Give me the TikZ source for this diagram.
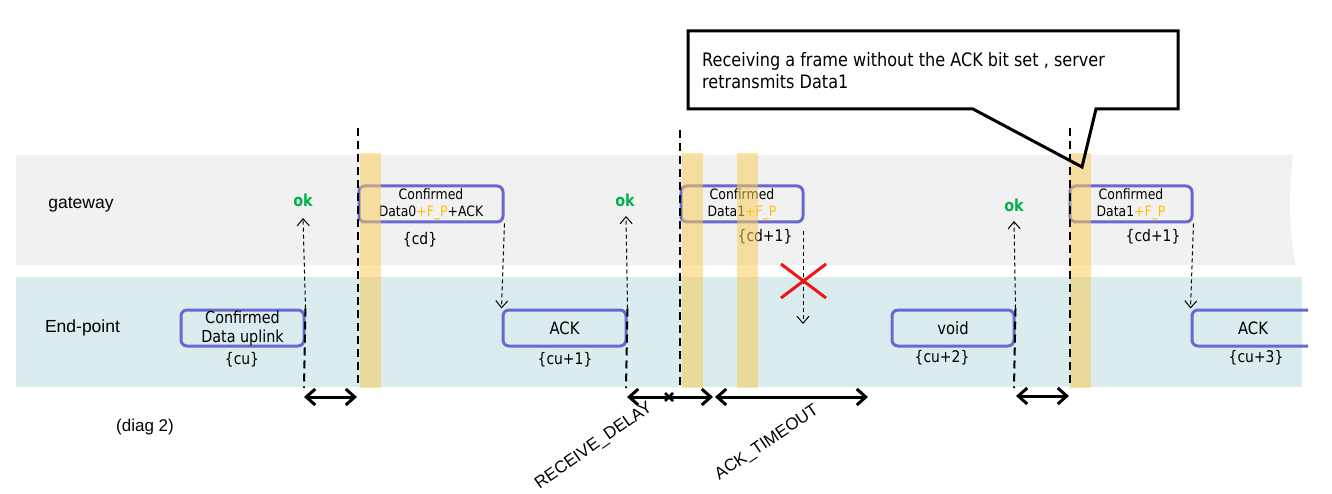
\documentclass[tikz,border=0pt]{standalone}
\usepackage{fontspec}
\setmainfont{Liberation Sans}
\newfontfamily\tah[FakeStretch=0.87]{DejaVu Sans}
\usetikzlibrary{arrows.meta}
\definecolor{gwgray}{RGB}{241,241,241}
\definecolor{epteal}{RGB}{218,236,238}
\definecolor{boxblue}{RGB}{104,104,208}
\definecolor{barfill}{RGB}{247,205,90}
\definecolor{okgreen}{RGB}{0,176,80}
\definecolor{fporange}{RGB}{255,192,0}
\definecolor{xred}{RGB}{240,20,20}
\newcommand{\fsz}[2]{\fontsize{#1}{#2}\selectfont}
\tikzset{
  msgbox/.style={draw=boxblue, line width=3pt, rounded corners=6pt, inner sep=0pt, align=center, minimum height=36pt},
  smalltxt/.style={font=\tah\fsz{14.3}{17}},
  bigtxt/.style={font=\tah\fsz{17}{20}},
  lbl/.style={font=\tah\fsz{16}{19}, inner sep=0pt},
  oktxt/.style={font=\tah\bfseries\fsz{16.5}{19}, text=okgreen, inner sep=0pt},
  lane/.style={font=\fsz{17.5}{20}, inner sep=0pt},
  bar/.style={fill=barfill, fill opacity=0.55},
  tdash/.style={line width=2pt, dash pattern=on 8pt off 5pt},
  msg/.style={line width=1pt, dash pattern=on 4pt off 3pt, -{Straight Barb[length=7pt,width=12pt,line width=1pt]}},
  span/.style={line width=3pt, {Straight Barb[length=9pt,width=16pt]}-{Straight Barb[length=9pt,width=16pt]}},
  rot/.style={font=\fsz{17}{20}, inner sep=0pt}
}
\begin{document}
\begin{tikzpicture}[x=1pt,y=-1pt]
\useasboundingbox (0,0) rectangle (1332,494);
% lanes
\fill[gwgray] (16,155) -- (1293,155) .. controls (1288,195) and (1289,235) .. (1296,265) -- (16,265) -- cycle;
\fill[epteal] (16,277) rectangle (1302,387);
\node[lane] (gw) at (81,205) {gateway};
\node[lane] (ep) at (82.5,328) {End-point};
% message boxes
\node[msgbox, minimum width=123pt, font=\tah\fsz{16.5}{19}] (b1) at (242.5,328) {Confirmed\\Data uplink};
\node[msgbox, minimum width=144pt, smalltxt] (b2) at (431,204) {Confirmed\\Data0\textcolor{fporange}{+F\_P}+ACK};
\node[msgbox, minimum width=123pt, bigtxt] (b3) at (564.5,328) {ACK};
\node[msgbox, minimum width=122pt, smalltxt] (b4) at (742,204) {Confirmed\\Data1\textcolor{fporange}{+F\_P}};
\node[msgbox, minimum width=122pt, bigtxt] (b5) at (953,328) {void};
\node[msgbox, minimum width=122pt, smalltxt] (b6) at (1131,204) {Confirmed\\Data1\textcolor{fporange}{+F\_P}};
\begin{scope}
\clip (0,0) rectangle (1308,494);
\node[msgbox, minimum width=122pt, bigtxt] (b7) at (1253,328) {ACK};
\end{scope}
% labels
\node[lbl] (l1) at (242,360) {\{cu\}};
\node[lbl] (l2) at (420,240) {\{cd\}};
\node[lbl] (l3) at (565,360) {\{cu+1\}};
\node[lbl] (l4) at (765,237) {\{cd+1\}};
\node[lbl] (l5) at (942,358) {\{cu+2\}};
\node[lbl] (l6) at (1153,237) {\{cd+1\}};
\node[lbl] (l7) at (1256,358) {\{cu+3\}};
% yellow bars
\fill[bar] (360,153) rectangle (381,388);
\fill[bar] (682,153) rectangle (703,388);
\fill[bar] (737,153) rectangle (758,388);
\fill[bar] (1070,153) rectangle (1091,388);
% ok marks
\node[oktxt] (ok1) at (303,200) {ok};
\node[oktxt] (ok2) at (625,200) {ok};
\node[oktxt] (ok3) at (1014,205) {ok};
% coordinates
\coordinate (t1) at (303,218);
\coordinate (t2) at (626,216);
\coordinate (t3) at (1014,221);
\coordinate (xs) at (803,231);
\coordinate (xe) at (803,324);
\coordinate (d1a) at (358,128); \coordinate (d1b) at (358,388);
\coordinate (d2a) at (680,130); \coordinate (d2b) at (680,388);
\coordinate (d3a) at (1070,128); \coordinate (d3b) at (1070,388);
\coordinate (s1) at (304,388);
\coordinate (s2) at (626,388);
\coordinate (s3) at (1014,388);
\coordinate (a1l) at (304,397); \coordinate (a1r) at (357,397);
\coordinate (a2l) at (627,397); \coordinate (a2r) at (713,397);
\coordinate (a3l) at (715,397); \coordinate (a3r) at (868,397);
\coordinate (a4l) at (1016,396); \coordinate (a4r) at (1069,396);
% thick dashed lines
\draw[tdash] (d1a) -- (d1b);
\draw[tdash] (d2a) -- (d2b);
\draw[tdash] (d3a) -- (d3b);
\draw[tdash] (b1.north east) -- (s1);
\draw[tdash] (b3.north east) -- (s2);
\draw[tdash] (b5.north east) -- (s3);
% message arrows
\draw[msg] (b1.north east) -- (t1);
\draw[msg] (b2.south east) -- (b3.north west);
\draw[msg] (b3.north east) -- (t2);
\draw[msg] (xs) -- (xe);
\draw[msg] (b5.north east) -- (t3);
\draw[msg] (b6.south east) -- (b7.north west);
% red cross
\draw[xred, line width=3pt] (781,264) -- (826,298) (781,298) -- (826,264);
% spans
\draw[span] (a1l) -- (a1r);
\draw[span] (a2l) -- (a2r);
\draw[line width=2.5pt] (665,393) -- (673,401) (665,401) -- (673,393);
\draw[span] (a3l) -- (a3r);
\draw[span] (a4l) -- (a4r);
\node[rot, rotate=35] (rd) at (594,446) {RECEIVE\_DELAY};
\node[rot, rotate=34] (at) at (767,443) {ACK\_TIMEOUT};
\node[lane, font=\fsz{17}{20}] (dg) at (145,427) {(diag 2)};
% callout
\fill[white] (688,31) rectangle (1178,109);
\draw[line width=3pt, line join=miter] (973,109) -- (688,109) -- (688,31) -- (1178,31) -- (1178,109) -- (1096,109) -- (1082,167) -- cycle;
\node[anchor=west, align=left, inner sep=0pt, font=\tah\fsz{18.5}{22}] (ct) at (702,71) {Receiving a frame without the ACK bit set , server\\retransmits Data1};
\end{tikzpicture}
\end{document}
